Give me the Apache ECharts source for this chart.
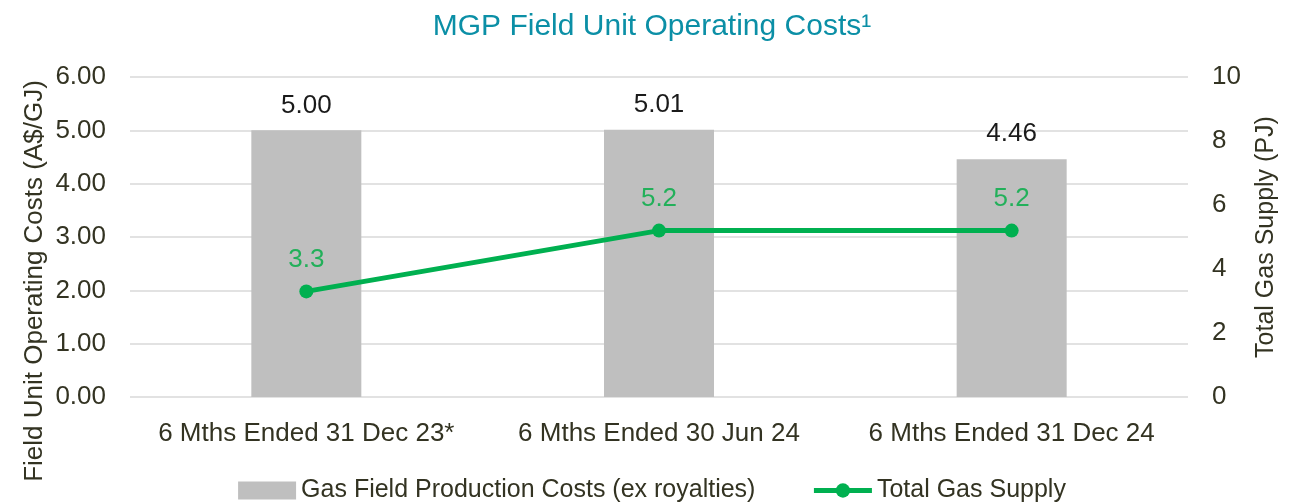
<!DOCTYPE html>
<html><head><meta charset="utf-8">
<script src="https://cdn.jsdelivr.net/npm/echarts@6/dist/echarts.min.js"></script>
<style>html,body{margin:0;padding:0;background:#fff}#c{width:1304px;height:502px}</style>
</head><body><div id="c"></div>
<script>
const categories = ['6 Mths Ended 31 Dec 23*', '6 Mths Ended 30 Jun 24', '6 Mths Ended 31 Dec 24'];
const costValues = [5.00, 5.01, 4.46];
const supplyValues = [3.3, 5.2, 5.2];
const leftTicks = [0, 1, 2, 3, 4, 5, 6];
const rightTicks = [0, 2, 4, 6, 8, 10];

const FONT = '"Liberation Sans", Arial, sans-serif';
const TXT = '#333322';
const chart = echarts.init(document.getElementById('c'));
chart.setOption({
  animation: false,
  textStyle: { fontFamily: FONT },
  title: {
    text: 'MGP Field Unit Operating Costs¹',
    left: 'center', top: 7,
    textStyle: { fontFamily: FONT, fontSize: 30, fontWeight: 'normal', color: '#0b8fa6' }
  },
  grid: { left: 130, right: 116, top: 77, bottom: 105 },
  legend: {
    top: 473, left: 'center', itemGap: 56, itemWidth: 58, itemHeight: 18,
    textStyle: { fontFamily: FONT, fontSize: 25, color: TXT },
    data: [
      { name: 'Gas Field Production Costs (ex royalties)', icon: 'rect' },
      { name: 'Total Gas Supply', lineStyle: { width: 5 }, itemStyle: { color: '#00b050' } }
    ]
  },
  xAxis: {
    type: 'category', data: categories,
    axisLine: { show: false }, axisTick: { show: false },
    axisLabel: { fontFamily: FONT, fontSize: 26, color: TXT, margin: 24, interval: 0 }
  },
  yAxis: [
    {
      type: 'value', min: leftTicks[0], max: leftTicks[leftTicks.length - 1], interval: 1,
      axisLabel: { fontFamily: FONT, fontSize: 26, color: TXT, margin: 24, formatter: v => v.toFixed(2) },
      splitLine: { lineStyle: { color: '#d9d9d9', width: 1.5 } },
      axisLine: { show: false }, axisTick: { show: false }
    },
    {
      type: 'value', min: rightTicks[0], max: rightTicks[rightTicks.length - 1], interval: 2,
      name: 'Total Gas Supply (PJ)', nameLocation: 'middle', nameGap: 66, nameRotate: 90,
      nameTextStyle: { fontFamily: FONT, fontSize: 25, color: TXT },
      axisLabel: { fontFamily: FONT, fontSize: 26, color: TXT, margin: 24 },
      splitLine: { show: false }, axisLine: { show: false }, axisTick: { show: false }
    }
  ],
  graphic: [{
    type: 'text', x: 35, y: 281, rotation: Math.PI / 2,
    style: { text: 'Field Unit Operating Costs (A$/GJ)', fontFamily: FONT, fontSize: 26, fill: TXT, align: 'center', verticalAlign: 'middle' }
  }],
  series: [
    {
      name: 'Gas Field Production Costs (ex royalties)', type: 'bar', yAxisIndex: 0,
      data: costValues, barWidth: 110,
      itemStyle: { color: '#bfbfbf' },
      label: { show: true, position: 'top', distance: 12, fontFamily: FONT, fontSize: 26, color: '#1a1a1a', formatter: p => p.value.toFixed(2) }
    },
    {
      name: 'Total Gas Supply', type: 'line', yAxisIndex: 1,
      data: supplyValues, symbol: 'circle', symbolSize: 14,
      lineStyle: { color: '#00b050', width: 5 },
      itemStyle: { color: '#00b050' },
      label: { show: true, position: 'top', distance: 12, fontFamily: FONT, fontSize: 26, color: '#22b05a', formatter: p => p.value.toFixed(1) }
    }
  ]
});
</script></body></html>
